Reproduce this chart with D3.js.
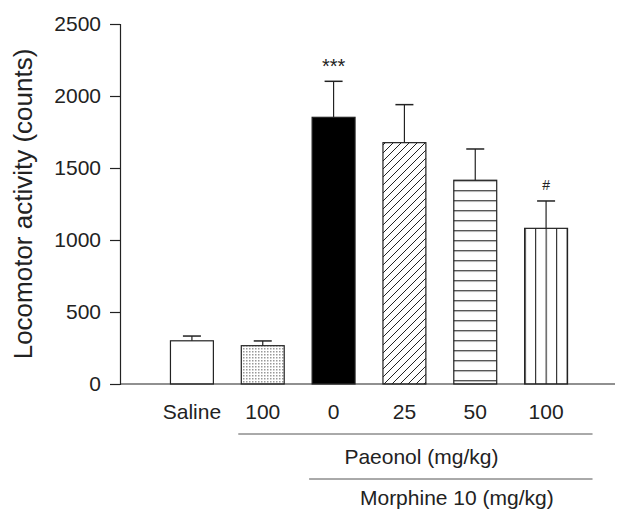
<!DOCTYPE html>
<html>
<head>
<meta charset="utf-8">
<script src="https://cdn.jsdelivr.net/npm/d3@7"></script>
<style>
  html, body { margin: 0; padding: 0; background: #fff; }
  svg { display: block; font-family: Arial, "Liberation Sans", sans-serif; }
</style>
</head>
<body>
<svg id="chart" width="617" height="511"></svg>
<script>
// values
const categories = ["Saline", "100", "0", "25", "50", "100"]
const means = [300, 266, 1852, 1676, 1415, 1081]
const sems = [33, 33, 250, 264, 217, 190]
const fills = ["white", "dots", "black", "diag", "hlines", "vlines"]
const marks = ["", "", "***", "", "", "#"]
const yTicks = [0, 500, 1000, 1500, 2000, 2500]
const groupLabels = ["Paeonol (mg/kg)", "Morphine 10 (mg/kg)"]
const groupFrom = [1, 2]
const groupTo = [5, 5]

const svg = d3.select("#chart")
const ink = "#222"

const x = d3.scaleBand()
  .domain(d3.range(categories.length))
  .range([156.5, 581.5])
  .paddingInner(0.394)
  .paddingOuter(0.197)

const y = d3.scaleLinear()
  .domain([0, 2500])
  .range([384, 24])

// fill patterns
const defs = svg.append("defs")

const dots = defs.append("pattern")
  .attr("id", "dots").attr("patternUnits", "userSpaceOnUse")
  .attr("width", 3).attr("height", 3)
dots.append("rect").attr("width", 3).attr("height", 3).attr("fill", "#fff")
dots.append("rect").attr("width", 1.5).attr("height", 1.5).attr("fill", "#999")

const diag = defs.append("pattern")
  .attr("id", "diag").attr("patternUnits", "userSpaceOnUse")
  .attr("width", 8).attr("height", 8)
diag.append("rect").attr("width", 8).attr("height", 8).attr("fill", "#fff")
diag.append("path").attr("d", "M-2,2 L2,-2 M0,8 L8,0 M6,10 L10,6")
  .attr("stroke", ink).attr("stroke-width", 1)

const hlines = defs.append("pattern")
  .attr("id", "hlines").attr("patternUnits", "userSpaceOnUse")
  .attr("width", 10).attr("height", 10).attr("y", y(1415))
hlines.append("rect").attr("width", 10).attr("height", 10).attr("fill", "#fff")
hlines.append("line").attr("x1", 0).attr("x2", 10).attr("y1", 0.5).attr("y2", 0.5)
  .attr("stroke", ink).attr("stroke-width", 1.2)

const vlines = defs.append("pattern")
  .attr("id", "vlines").attr("patternUnits", "userSpaceOnUse")
  .attr("width", 10.5).attr("height", 10).attr("x", x(5))
vlines.append("rect").attr("width", 10.5).attr("height", 10).attr("fill", "#fff")
vlines.append("line").attr("x1", 0.5).attr("x2", 0.5).attr("y1", 0).attr("y2", 10)
  .attr("stroke", ink).attr("stroke-width", 1.2)

const fillFor = f => f === "white" || f === "black" ? f : `url(#${f})`

// bars
svg.selectAll("rect.bar")
  .data(means)
  .enter()
  .append("rect")
  .attr("class", "bar")
  .attr("x", (d, i) => x(i))
  .attr("y", d => y(d))
  .attr("width", x.bandwidth())
  .attr("height", d => y(0) - y(d))
  .attr("fill", (d, i) => fillFor(fills[i]))
  .attr("stroke", ink)
  .attr("stroke-width", 1.2)

// error bars (upper only)
const capHalf = 9
svg.selectAll("line.err")
  .data(means)
  .enter()
  .append("line")
  .attr("class", "err")
  .attr("x1", (d, i) => x(i) + x.bandwidth() / 2)
  .attr("x2", (d, i) => x(i) + x.bandwidth() / 2)
  .attr("y1", d => y(d))
  .attr("y2", (d, i) => y(d + sems[i]))
  .attr("stroke", ink).attr("stroke-width", 1.2)

svg.selectAll("line.cap")
  .data(means)
  .enter()
  .append("line")
  .attr("class", "cap")
  .attr("x1", (d, i) => x(i) + x.bandwidth() / 2 - capHalf)
  .attr("x2", (d, i) => x(i) + x.bandwidth() / 2 + capHalf)
  .attr("y1", (d, i) => y(d + sems[i]))
  .attr("y2", (d, i) => y(d + sems[i]))
  .attr("stroke", ink).attr("stroke-width", 1.5)

// significance marks
svg.selectAll("text.mark")
  .data(means)
  .enter()
  .append("text")
  .attr("class", "mark")
  .attr("x", (d, i) => x(i) + x.bandwidth() / 2)
  .attr("y", (d, i) => y(d + sems[i]) - (marks[i] === "#" ? 11 : 8))
  .attr("text-anchor", "middle")
  .attr("font-size", (d, i) => marks[i] === "#" ? 14 : 20)
  .attr("fill", ink)
  .text((d, i) => marks[i])

// y axis
const yAxis = svg.append("g")
  .attr("transform", "translate(120,0)")
  .call(d3.axisLeft(y).tickValues(yTicks).tickSize(10).tickPadding(9).tickFormat(d3.format("d")))
yAxis.select(".domain").attr("stroke", ink).attr("stroke-width", 1.2)
yAxis.selectAll(".tick line").attr("stroke", ink).attr("stroke-width", 1.2)
yAxis.selectAll(".tick text")
  .attr("font-size", 21).attr("fill", ink)
  .attr("font-family", "Arial, 'Liberation Sans', sans-serif")

// x axis baseline
svg.append("line")
  .attr("x1", 120).attr("x2", 615)
  .attr("y1", y(0)).attr("y2", y(0))
  .attr("stroke", ink).attr("stroke-width", 1.2)

// category labels
svg.selectAll("text.cat")
  .data(categories)
  .enter()
  .append("text")
  .attr("class", "cat")
  .attr("x", (d, i) => x(i) + x.bandwidth() / 2)
  .attr("y", 419)
  .attr("text-anchor", "middle")
  .attr("font-size", 21)
  .attr("fill", ink)
  .text(d => d)

// group lines and labels
const groupLineY = [434, 479]
const groupTextY = [464, 505]
groupLabels.forEach((label, k) => {
  const x1 = x(groupFrom[k]) - 3
  const x2 = x(groupTo[k]) + x.bandwidth() + 25
  svg.append("line")
    .attr("x1", x1).attr("x2", x2)
    .attr("y1", groupLineY[k]).attr("y2", groupLineY[k])
    .attr("stroke", "#555").attr("stroke-width", 1)
  svg.append("text")
    .attr("x", (x1 + x2) / 2 + 6)
    .attr("y", groupTextY[k])
    .attr("text-anchor", "middle")
    .attr("font-size", 21)
    .attr("fill", ink)
    .text(label)
})

// y axis title
svg.append("text")
  .attr("transform", `translate(32,${(y(0) + y(2500)) / 2}) rotate(-90)`)
  .attr("text-anchor", "middle")
  .attr("font-size", 26)
  .attr("fill", ink)
  .text("Locomotor activity (counts)")
</script>
</body>
</html>
